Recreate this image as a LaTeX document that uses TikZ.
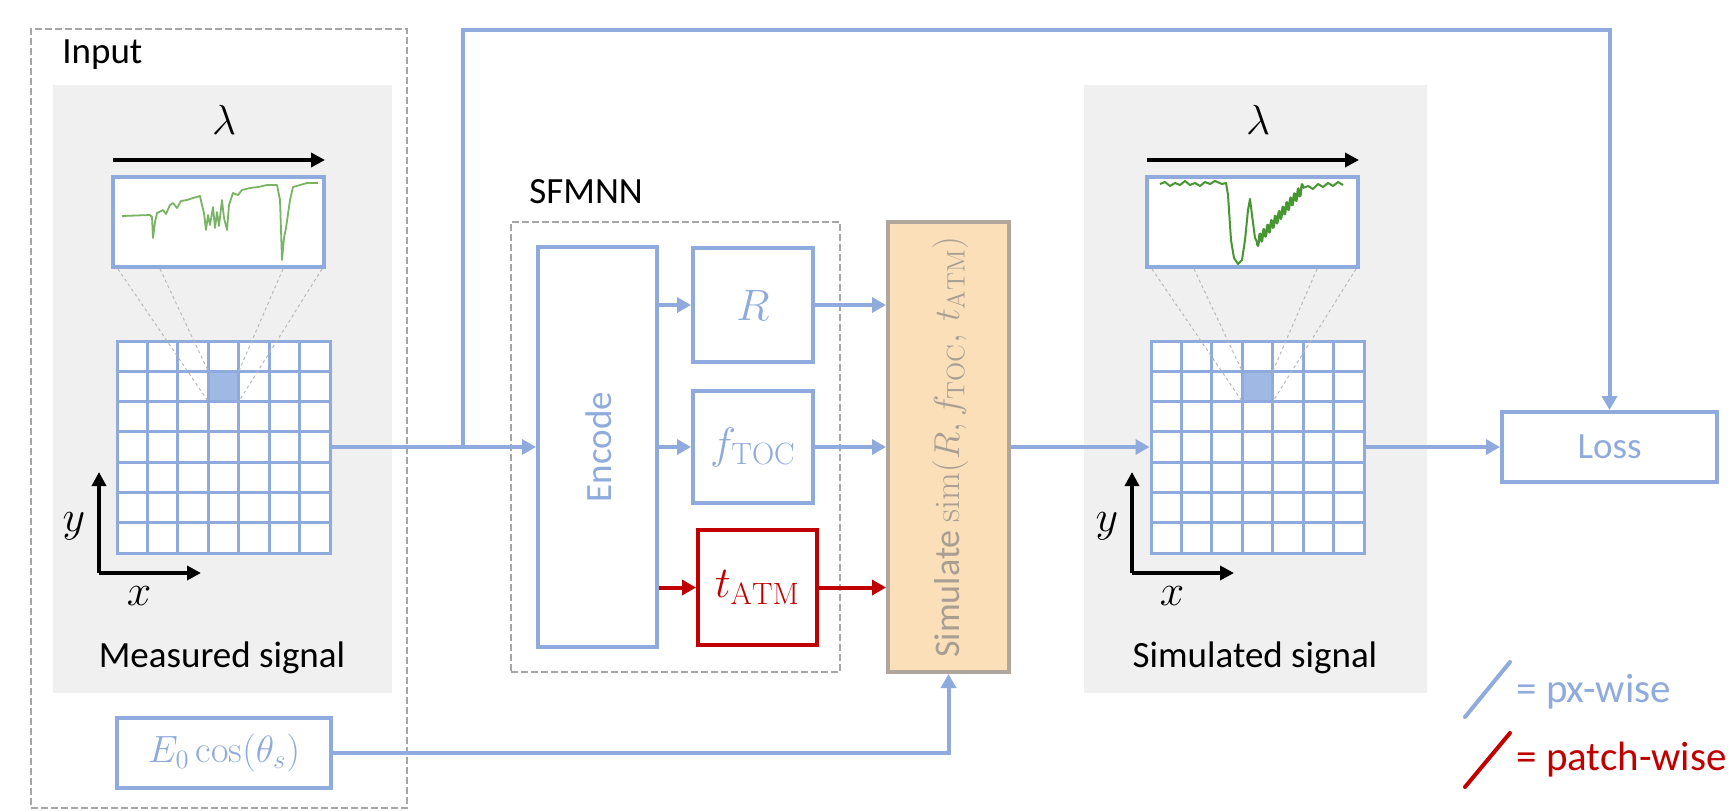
\RequirePackage{fix-cm}
\documentclass[tikz,border=0pt]{standalone}
\usepackage{fontspec}
\setsansfont{Carlito}
\usetikzlibrary{arrows.meta}
\definecolor{lblue}{RGB}{143,170,220}
\definecolor{hlblue}{RGB}{160,185,228}
\definecolor{pred}{RGB}{192,0,0}
\definecolor{pgray}{RGB}{240,240,240}
\definecolor{dgray}{RGB}{166,166,166}
\definecolor{simfill}{RGB}{250,223,184}
\definecolor{simdraw}{RGB}{176,166,156}
\definecolor{simtext}{RGB}{168,158,148}
\definecolor{specl}{RGB}{120,180,100}
\definecolor{specd}{RGB}{70,150,50}
\begin{document}
\begin{tikzpicture}[x=0.5pt,y=-0.5pt,
  bl/.style={draw=lblue, line width=2pt, fill=white, inner sep=0pt, text=lblue},
  flowarrow/.style={draw=lblue, line width=2pt, -{Triangle[length=7pt,width=7.5pt]}},
  patcharrow/.style={draw=pred, line width=2pt, -{Triangle[length=7pt,width=7.5pt]}},
  dbox/.style={draw=dgray, line width=1pt, dash pattern=on 3.5pt off 1.5pt, inner sep=0pt},
  panel/.style={fill=pgray, draw=none, inner sep=0pt},
  gridl/.style={draw=lblue, line width=1.5pt},
  dotl/.style={draw=dgray!80, line width=0.5pt, dash pattern=on 1.5pt off 1.5pt},
  axarrow/.style={draw=black, line width=2pt, -{Triangle[length=7pt,width=7pt]}},
  sans/.style={font=\sffamily\fontsize{18.5}{22}\selectfont},
  mathbig/.style={font=\fontsize{22}{26}\selectfont},
]
\useasboundingbox (0,0) rectangle (1730,810);

% ---------- panels ----------
\node[panel, minimum width=169.5pt, minimum height=304pt] (lpanel) at (222.5,389) {};
\node[panel, minimum width=171.5pt, minimum height=304pt] (rpanel) at (1255.5,389) {};
\node[dbox, minimum width=188pt, minimum height=389.5pt] (inbox) at (219,418.5) {};
\node[dbox, minimum width=164.5pt, minimum height=225pt] (sfbox) at (675.5,447) {};

\node[sans, anchor=base west, inner sep=0pt] (inlabel) at (62,63) {Input};
\node[sans, anchor=base west, inner sep=0pt] (sflabel) at (529,203) {SFMNN};
\node[sans, anchor=base, inner sep=0pt] (mslabel) at (222,667) {Measured signal};
\node[sans, anchor=base, inner sep=0pt] (sslabel) at (1255,667) {Simulated signal};

% ---------- lambda arrows ----------
\node[font=\fontsize{21}{24}\selectfont, inner sep=0pt] (laml) at (224,120) {$\lambda$};
\node[font=\fontsize{21}{24}\selectfont, inner sep=0pt] (lamr) at (1258,120) {$\lambda$};
\coordinate (lal) at (113,160); \coordinate (lar) at (325,160);
\coordinate (ral) at (1147,160); \coordinate (rar) at (1359,160);
\draw[axarrow] (lal) -- (lar);
\draw[axarrow] (ral) -- (rar);

% ---------- grids ----------
\node[draw=lblue, line width=1.5pt, fill=white, minimum width=106.5pt, minimum height=106pt, inner sep=0pt] (lgrid) at (223.5,447) {};
\node[draw=lblue, line width=1.5pt, fill=white, minimum width=106.5pt, minimum height=106pt, inner sep=0pt] (rgrid) at (1257.5,447) {};
\fill[hlblue] (208.3,371.3) rectangle (238.7,401.6);
\fill[hlblue] (1242.3,371.3) rectangle (1272.7,401.6);
\foreach \ox in {0,1034}{
  \foreach \i in {1,...,6}{
    \draw[gridl] ({117+\ox+\i*30.43},341) -- ++(0,212);
    \draw[gridl] ({117+\ox},{341+\i*30.29}) -- ++(213,0);
  }
}

% ---------- spectra ----------
\node[bl, minimum width=105.5pt, minimum height=45pt] (lspec) at (218.5,222) {};
\node[bl, minimum width=105.5pt, minimum height=45pt] (rspec) at (1252.5,222) {};
\foreach \ox in {0,1034}{
  \draw[dotl] ({118+\ox},269) -- ({208.3+\ox},401.6);
  \draw[dotl] ({160+\ox},269) -- ({208.3+\ox},371.3);
  \draw[dotl] ({283+\ox},269) -- ({238.7+\ox},371.3);
  \draw[dotl] ({322+\ox},269) -- ({238.7+\ox},401.6);
}
\draw[specl, line width=0.9pt, line join=round]
 (122,216) -- (150,215) -- (152,217) -- (153,238) -- (155,222) -- (157,213) -- (163,210) -- (166,214) -- (170,205)
 -- (173,203) -- (177,208) -- (181,201) -- (187,200) -- (193,198) -- (200,196) -- (202,205) -- (204,213) -- (206,230)
 -- (208,215) -- (210,225) -- (213,207) -- (215,228) -- (217,212) -- (219,226) -- (222,200) -- (224,218) -- (227,230)
 -- (229,205) -- (233,193) -- (238,195) -- (242,190) -- (250,188) -- (258,187) -- (267,185) -- (277,185) -- (280,200)
 -- (282,260) -- (284,238) -- (286,228) -- (290,200) -- (293,187) -- (300,185) -- (307,183) -- (318,183);
\draw[specd, line width=1pt, line join=round]
 (1160,184) -- (1165,182) -- (1170,186) -- (1175,183) -- (1180,185) -- (1185,181) -- (1190,185) -- (1195,183) -- (1200,186)
 -- (1205,182) -- (1210,184) -- (1215,181) -- (1222,184) -- (1226,183) -- (1228,195) -- (1231,240) -- (1234,258)
 -- (1238,264) -- (1242,260) -- (1245,240) -- (1248,210) -- (1250,199) -- (1252,215) -- (1255,238) -- (1257,242);
\draw[specd, line width=1.2pt, line join=round] plot[domain=0:1, samples=90] ({1257+46*\x},{242-54*\x+5*sin(\x*4320)});
\draw[specd, line width=1pt, line join=round]
 (1303,188) -- (1308,186) -- (1313,189) -- (1318,184) -- (1323,187) -- (1328,183) -- (1333,186) -- (1338,182) -- (1343,185);

% ---------- axes ----------
\coordinate (lo) at (99,573); \coordinate (ly) at (99,472); \coordinate (lx) at (201,573);
\coordinate (ro) at (1132,573); \coordinate (ry) at (1132,472); \coordinate (rx) at (1234,573);
\draw[axarrow] (lo) -- (ly);
\draw[axarrow] (lo) -- (lx);
\draw[axarrow] (ro) -- (ry);
\draw[axarrow] (ro) -- (rx);
\node[font=\fontsize{22}{26}\selectfont, inner sep=0pt] (lylab) at (74,526) {$y$};
\node[font=\fontsize{22}{26}\selectfont, inner sep=0pt] (lxlab) at (139,596) {$x$};
\node[font=\fontsize{22}{26}\selectfont, inner sep=0pt] (rylab) at (1107,526) {$y$};
\node[font=\fontsize{22}{26}\selectfont, inner sep=0pt] (rxlab) at (1172,596) {$x$};

% ---------- network boxes ----------
\node[bl, minimum width=59.5pt, minimum height=200pt] (enc) at (597.5,447) {};
\node[sans, rotate=90, text=lblue, inner sep=0pt] (enclab) at (599,447) {Encode};
\node[bl, mathbig, minimum width=60pt, minimum height=57pt] (r) at (753,305) {$R$};
\node[bl, mathbig, minimum width=60pt, minimum height=56pt] (f) at (753,447) {$f_{\mathrm{TOC}}$};
\node[bl, mathbig, draw=pred, text=pred, minimum width=59.5pt, minimum height=57.5pt] (t) at (757.5,587.5) {$t_{\mathrm{ATM}}$};
\node[draw=simdraw, fill=simfill, line width=2pt, minimum width=60.5pt, minimum height=225pt, inner sep=0pt] (sim) at (948.5,447) {};
\node[rotate=90, text=simtext, inner sep=0pt, font=\fontsize{18}{22}\selectfont] (simlab) at (950,447)
  {\sffamily Simulate \rmfamily$\mathrm{sim}(R, f_{\mathrm{TOC}},\, t_{\mathrm{ATM}})$};
\node[bl, sans, minimum width=107.5pt, minimum height=35pt] (loss) at (1609.5,447) {Loss};
\node[bl, font=\fontsize{19}{23}\selectfont, minimum width=107pt, minimum height=35pt] (e0) at (224,753) {$E_0\cos(\theta_s)$};

% ---------- connectors ----------
\coordinate (branch) at (463,447);
\coordinate (topl) at (463,30);
\draw[flowarrow] (lgrid.east) -- (enc.west);
\draw[flowarrow] (branch) -- (topl) -| (loss.north);
\draw[flowarrow] (enc.east |- r.west) -- (r.west);
\draw[flowarrow] (enc.east |- f.west) -- (f.west);
\draw[patcharrow] (enc.east |- t.west) -- (t.west);
\draw[flowarrow] (r.east) -- (r.east -| sim.west);
\draw[flowarrow] (f.east) -- (f.east -| sim.west);
\draw[patcharrow] (t.east) -- (t.east -| sim.west);
\draw[flowarrow] (sim.east) -- (rgrid.west);
\draw[flowarrow] (rgrid.east) -- (loss.west);
\draw[flowarrow] (e0.east) -| (sim.south);

% ---------- legend ----------
\draw[lblue, line width=2pt, line cap=round] (1465,717) -- (1510,662);
\draw[pred, line width=2pt, line cap=round] (1465,787) -- (1510,733);
\node[anchor=west, inner sep=0pt, text=lblue, font=\sffamily\fontsize{20.5}{24}\selectfont] (lg1) at (1516,692) {= px-wise};
\node[anchor=west, inner sep=0pt, text=pred, font=\sffamily\fontsize{20.5}{24}\selectfont] (lg2) at (1516,760) {= patch-wise};
\end{tikzpicture}
\end{document}
